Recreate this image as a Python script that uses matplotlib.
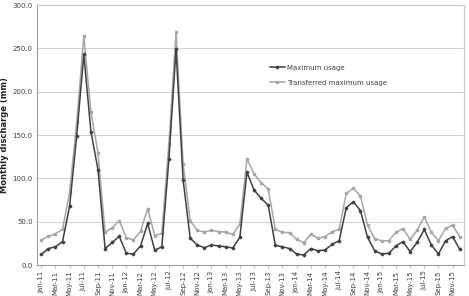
import matplotlib
matplotlib.use("Agg")
import matplotlib.pyplot as plt
import numpy as np

# monthly series, Jan-11 .. Dec-15
months = [f"{m}-{y}" for y in range(11, 16)
          for m in ["Jan", "Feb", "Mar", "Apr", "May", "Jun",
                    "Jul", "Aug", "Sep", "Oct", "Nov", "Dec"]]

max_usage = [
    12.3, 19, 21, 27, 68, 149, 243, 154, 110, 19, 26, 33,
    13.5, 12.7, 22, 48, 17, 21, 122.6, 249, 98, 31, 23, 20,
    23, 22, 21, 19.6, 32, 107, 86.5, 77, 69, 22.7, 21, 19,
    12.7, 11.5, 19, 16.5, 17.3, 23.8, 28, 66, 73, 62.7, 32, 16.5,
    12.7, 13.5, 22, 27, 15.4, 26, 41, 23, 12.7, 28, 32.7, 18,
]
transferred = [
    28.8, 33, 36, 41, 84, 165, 264, 177, 129, 38, 43, 51,
    31.5, 29, 39, 65, 34, 36.5, 140, 269, 117, 51, 40, 38,
    40, 38.5, 38, 35.4, 47, 122.6, 105, 95, 87.7, 41, 37.7, 37.3,
    29.6, 25.7, 35.4, 30.8, 32.7, 38.5, 41, 82.7, 88.5, 79.6, 46, 30.4,
    28, 28, 37.7, 42, 29.6, 40, 55.4, 37.7, 28, 42.3, 45.8, 32.7,
]

x = np.arange(len(months))

fig = plt.figure(figsize=(4.69, 2.96), dpi=100)
ax = fig.add_axes([37 / 469, 31 / 296, 427 / 469, 260 / 296])

ax.plot(x, transferred, color="#a6a6a6", lw=1.1, marker="s", ms=1.9,
        label="Transferred maximum usage", zorder=2)
ax.plot(x, max_usage, color="#404040", lw=1.1, marker="D", ms=1.4,
        label="Maximum usage", zorder=3)

ax.set_xlim(-0.6, len(months) - 0.4)
ax.set_ylim(0, 300)
ax.set_yticks(np.arange(0, 301, 50))
ax.set_yticklabels([f"{v:.1f}" for v in np.arange(0, 301, 50)])
ax.set_xticks(x[::2])
ax.set_xticklabels(months[::2], rotation=90)
ax.tick_params(axis="both", labelsize=5, colors="#404040", length=0, pad=3)
ax.tick_params(axis="x", length=2, color="#bfbfbf", pad=2)

ax.grid(axis="y", color="#d0d0d0", lw=0.7)
ax.set_axisbelow(True)
for s in ax.spines.values():
    s.set_color("#c8c8c8")
    s.set_linewidth(0.8)
ax.spines["left"].set_color("#a0a0a0")
ax.spines["bottom"].set_color("#a0a0a0")

ax.set_ylabel("Monthly discharge (mm)", fontsize=6, fontweight="bold",
              color="#222222")
ax.yaxis.set_label_coords(-28 / 427, 0.5)

h, l = ax.get_legend_handles_labels()
leg = ax.legend(h[::-1], l[::-1], loc="upper left",
                bbox_to_anchor=(0.53, 0.795), frameon=False, fontsize=5,
                handlelength=2.2, handletextpad=0.3, labelspacing=1.3)
for t in leg.get_texts():
    t.set_color("#404040")

fig.savefig("out.png", dpi=100)
